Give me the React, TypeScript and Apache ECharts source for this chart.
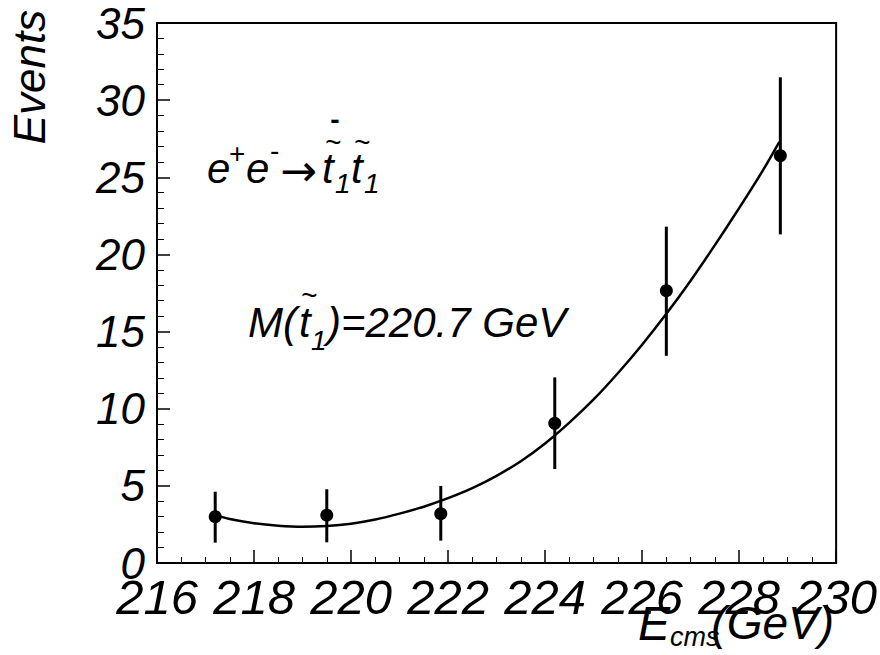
import React, { useEffect, useRef } from "react";
import * as echarts from "echarts";

// Measured points (centre-of-mass energy in GeV, number of events)
const energies = [217.2, 219.5, 221.85, 224.2, 226.5, 228.85];
const events = [3.0, 3.1, 3.2, 9.05, 17.65, 26.4];
const errLow = [1.32, 1.34, 1.45, 6.09, 13.43, 21.3];
const errHigh = [4.62, 4.78, 4.99, 12.03, 21.8, 31.48];

// Fitted curve
const fitX = [217.15, 217.5, 218.0, 218.5, 219.0, 219.5, 220.0, 220.5, 221.0, 221.5, 222.0, 222.5, 223.0, 223.5, 224.0, 224.5, 225.0, 225.5, 226.0, 226.5, 227.0, 227.5, 228.0, 228.5, 228.83];
const fitY = [3.15, 2.85, 2.58, 2.42, 2.35, 2.4, 2.55, 2.82, 3.2, 3.65, 4.2, 4.85, 5.65, 6.6, 7.75, 9.1, 10.6, 12.3, 14.15, 16.15, 18.3, 20.6, 23.0, 25.5, 27.3];

// Axis settings
const xMin = 216, xMax = 230, xStep = 2;
const yMin = 0, yMax = 35, yStep = 5;

const FONT = "'Liberation Sans', Arial, Helvetica, sans-serif";

function txt(text: string, x: number, y: number, size: number, opts: any = {}) {
  return {
    type: "text",
    x,
    y,
    rotation: opts.rotation || 0,
    style: {
      text,
      fontFamily: opts.family || FONT,
      fontSize: size,
      fontStyle: opts.italic === false ? "normal" : "italic",
      fontWeight: opts.bold ? "bold" : "normal",
      fill: "#000",
      align: opts.align || "left",
      verticalAlign: "middle",
    },
  };
}

export default function App() {
  const ref = useRef<HTMLDivElement>(null);
  useEffect(() => {
    if (!ref.current) return;
    const chart = echarts.init(ref.current, null, { renderer: "svg" });
    const fitData = fitX.map((x, i) => [x, fitY[i]]);
    const pts = energies.map((x, i) => [x, events[i]]);
    const errs = energies.map((x, i) => [x, errLow[i], errHigh[i]]);
    const fs = 42;
    const sfs = 28;
    chart.setOption({
      animation: false,
      backgroundColor: "#fff",
      grid: {
        left: 157,
        top: 23,
        right: 42,
        bottom: 92,
        show: true,
        borderColor: "#000",
        borderWidth: 2,
        backgroundColor: "transparent",
      },
      xAxis: {
        type: "value",
        min: xMin,
        max: xMax,
        interval: xStep,
        axisLine: { lineStyle: { color: "#000", width: 2 } },
        axisTick: { inside: true, length: 13, lineStyle: { color: "#000", width: 1.5 } },
        minorTick: { show: true, splitNumber: 4, length: 6, lineStyle: { color: "#000", width: 1 } },
        splitLine: { show: false },
        minorSplitLine: { show: false },
        axisLabel: {
          fontSize: 49,
          fontStyle: "italic",
          fontFamily: FONT,
          color: "#000",
          margin: 9,
          showMinLabel: true,
          showMaxLabel: true,
        },
      },
      yAxis: {
        type: "value",
        min: yMin,
        max: yMax,
        interval: yStep,
        axisLine: { show: true, lineStyle: { color: "#000", width: 2 } },
        axisTick: { show: true, inside: true, length: 13, lineStyle: { color: "#000", width: 1.5 } },
        minorTick: { show: true, splitNumber: 5, length: 7, lineStyle: { color: "#000", width: 1 } },
        splitLine: { show: false },
        minorSplitLine: { show: false },
        axisLabel: {
          fontSize: 44,
          fontStyle: "italic",
          fontFamily: FONT,
          color: "#000",
          margin: 12,
          showMinLabel: true,
          showMaxLabel: true,
        },
      },
      series: [
        {
          type: "line",
          data: fitData,
          showSymbol: false,
          smooth: 0.25,
          lineStyle: { color: "#000", width: 2.5 },
          z: 2,
        },
        {
          type: "custom",
          data: errs,
          encode: { x: 0, y: [1, 2] },
          renderItem: (params: any, api: any) => {
            const x = api.value(0);
            const lo = api.coord([x, api.value(1)]);
            const hi = api.coord([x, api.value(2)]);
            return {
              type: "line",
              shape: { x1: lo[0], y1: lo[1], x2: hi[0], y2: hi[1] },
              style: { stroke: "#000", lineWidth: 3 },
            };
          },
          z: 3,
        },
        {
          type: "scatter",
          data: pts,
          symbol: "circle",
          symbolSize: 13,
          itemStyle: { color: "#000", opacity: 1 },
          z: 4,
        },
      ],
      graphic: [
        // y-axis title
        txt("Events", 29, 77, 44, { rotation: Math.PI / 2, align: "center" }),
        // x-axis title
        txt("E", 638, 623, 48),
        txt("cms", 670, 637, 27),
        txt("(GeV)", 834, 623, 46, { align: "right" }),
        // reaction
        txt("e", 207, 168, fs),
        txt("+", 229, 153, sfs, { italic: false }),
        txt("e", 246, 168, fs),
        txt("-", 270, 150, sfs, { italic: false }),
        txt("\u2192", 280, 170, 44, { italic: false, family: "'DejaVu Sans', sans-serif" }),
        txt("t", 322, 168, fs),
        txt("~", 333, 142, 28, { align: "center" }),
        txt("-", 335, 119, 28, { align: "center", bold: true, italic: false }),
        txt("1", 335, 183, sfs),
        txt("t", 351, 168, fs),
        txt("~", 362, 142, 28, { align: "center" }),
        txt("1", 364, 183, sfs),
        // mass
        txt("M(", 248, 322, fs),
        txt("t", 299, 322, fs),
        txt("~", 309, 295, 28, { align: "center" }),
        txt("1", 311, 340, sfs),
        txt(")=220.7 GeV", 327, 322, fs),
      ],
    });
    return () => chart.dispose();
  }, []);
  return (
    <div
      ref={ref}
      style={{ position: "fixed", left: 0, top: 0, width: 880, height: 655, background: "#fff" }}
    />
  );
}
